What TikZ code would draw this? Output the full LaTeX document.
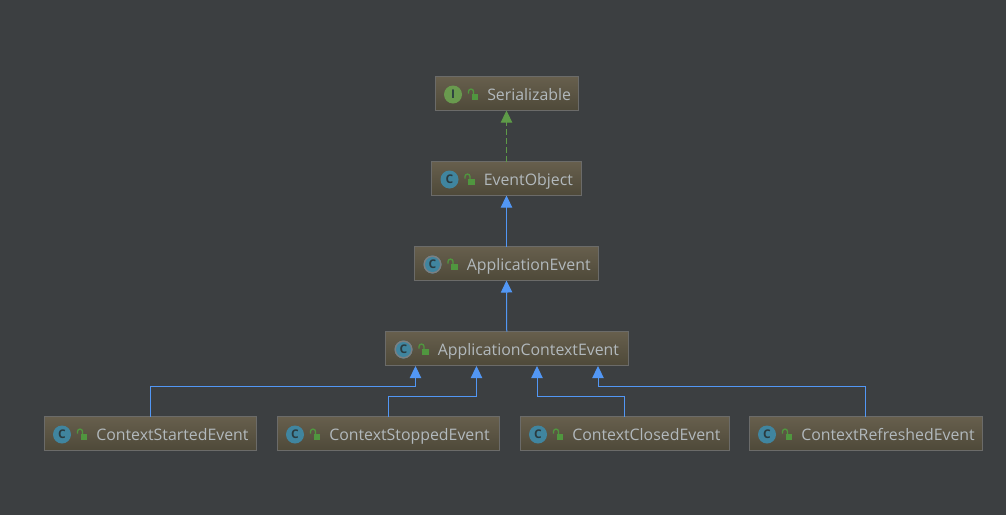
\documentclass[tikz,border=0pt]{standalone}
\usepackage{fontspec}
\setmainfont{Open Sans}
\usetikzlibrary{arrows.meta}
\definecolor{bgc}{HTML}{3C3F41}
\definecolor{boxtop}{HTML}{675F4D}
\definecolor{boxbot}{HTML}{4E4939}
\definecolor{boxline}{HTML}{6B6B69}
\definecolor{txt}{HTML}{B2B9BD}
\definecolor{blueln}{HTML}{5297F5}
\definecolor{greenln}{HTML}{5E9B48}
\definecolor{iconC}{HTML}{40859F}
\definecolor{iconI}{HTML}{699A4E}
\definecolor{iconInk}{HTML}{2A3B40}
\definecolor{lockc}{HTML}{50963F}
\definecolor{rimc}{HTML}{7D7F80}
\tikzset{
  x=0.75pt,y=-0.75pt,
  classbox/.style={draw=boxline,line width=0.75pt,top color=boxtop,bottom color=boxbot,minimum height=25.5pt,inner sep=0pt,outer sep=0pt},
  classtext/.style={text=txt,font=\fontsize{11.9pt}{14pt}\selectfont,anchor=base west,inner sep=0pt},
  iconletter/.style={text=iconInk,font=\fontsize{9pt}{10pt}\selectfont\bfseries,inner sep=0pt},
  extends/.style={draw=blueln,line width=0.75pt,-{Triangle[length=9pt,width=8.5pt]}},
  implements/.style={draw=greenln,line width=0.75pt,dash pattern=on 4.5pt off 2.2pt,-{Triangle[length=9pt,width=8.5pt]}},
}
% name, left, right, centre y, icon colour, letter, label, abstract flag
\newcommand{\classnode}[8]{%
  \pgfmathsetmacro{\boxw}{(#3-#2)*0.75}%
  \node[classbox,minimum width=\boxw pt] (#1) at ({(#2+#3)/2},#4) {};
  \pgfmathsetmacro{\icx}{#2+18}%
  \pgfmathsetmacro{\icy}{#4+1}%
  \fill[#5] (\icx,\icy) circle (9);
  \if#81\fill[rimc] (\icx,\icy) circle (9);\fill[iconC] (\icx,\icy) circle (7.5);\fi
  \node[iconletter] (#1-i) at (\icx,\icy) {#6};
  \pgfmathsetmacro{\lkx}{#2+38}%
  \fill[lockc] (\lkx-1.5,\icy-0.5) rectangle (\lkx+5,\icy+5);
  \draw[lockc,line width=1pt] (\lkx-4.5,\icy-1) -- (\lkx-4.5,\icy-3) .. controls (\lkx-4.5,\icy-6.2) and (\lkx+0.5,\icy-6.2) .. (\lkx+0.5,\icy-3) -- (\lkx+0.5,\icy-0.5);
  \node[classtext] (#1-t) at (#2+52,#4+6.5) {#7};
}
\begin{document}
\begin{tikzpicture}
\useasboundingbox[fill=bgc] (0,0) rectangle (1006,515);
\classnode{ser}{435}{578}{93.5}{iconI}{I}{Serializable}{0}
\classnode{eo}{431.5}{581.5}{178.5}{iconC}{C}{EventObject}{0}
\classnode{ae}{414.5}{598.5}{263.5}{iconC}{C}{ApplicationEvent}{1}
\classnode{ace}{385.5}{628}{348.5}{iconC}{C}{ApplicationContextEvent}{1}
\classnode{cse}{44}{256.5}{433.5}{iconC}{C}{ContextStartedEvent}{0}
\classnode{cso}{277}{499.5}{433.5}{iconC}{C}{ContextStoppedEvent}{0}
\classnode{ccl}{520}{729}{433.5}{iconC}{C}{ContextClosedEvent}{0}
\classnode{cre}{749}{982}{433.5}{iconC}{C}{ContextRefreshedEvent}{0}
\coordinate (p1) at (415.5,366);
\coordinate (p2) at (476.5,366);
\coordinate (p3) at (537,366);
\coordinate (p4) at (598,366);
\draw[implements] (eo.north) -- (ser.south);
\draw[extends] (ae.north) -- (eo.south);
\draw[extends] (ace.north) -- (ae.south);
\draw[extends] (cse.north) -- ++(0,-30) -| (p1);
\draw[extends] (cso.north) -- ++(0,-20) -| (p2);
\draw[extends] (ccl.north) -- ++(0,-20) -| (p3);
\draw[extends] (cre.north) -- ++(0,-30) -| (p4);
\end{tikzpicture}
\end{document}
